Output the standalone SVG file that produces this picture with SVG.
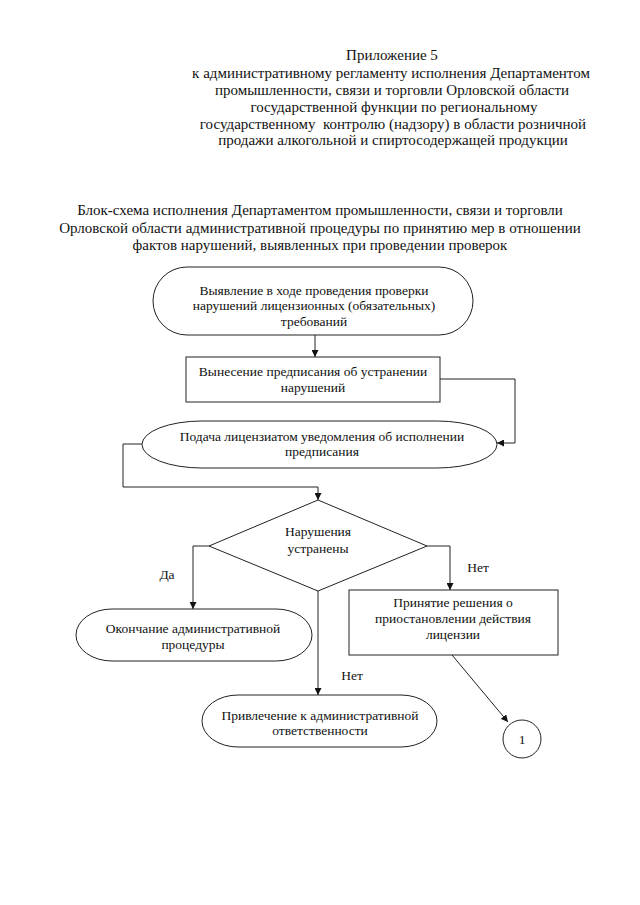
<svg xmlns="http://www.w3.org/2000/svg" width="640" height="905" viewBox="0 0 640 905">
<style>
text{font-family:"Liberation Serif","Times New Roman",serif;fill:#111;text-anchor:middle}
.h{font-size:15px}
.n{font-size:13.5px}
.s{fill:#fff;stroke:#222;stroke-width:1}
.c{fill:none;stroke:#222;stroke-width:1}
</style>
<defs>
<marker id="a" viewBox="0 0 10 10" refX="10" refY="5" markerWidth="7" markerHeight="7" orient="auto" markerUnits="userSpaceOnUse">
<path d="M0,0 L10,5 L0,10 z" fill="#111"/>
</marker>
</defs>
<rect width="640" height="905" fill="#fff"/>
<g id="header">
<text class="h" x="392" y="60">Приложение 5</text>
<text class="h" x="391" y="78">к административному регламенту исполнения Департаментом</text>
<text class="h" x="392" y="95">промышленности, связи и торговли Орловской области</text>
<text class="h" x="394" y="112">государственной функции по региональному</text>
<text class="h" x="393" y="129" xml:space="preserve">государственному  контролю (надзору) в области розничной</text>
<text class="h" x="393" y="145">продажи алкогольной и спиртосодержащей продукции</text>
</g>
<g id="title">
<text class="h" x="320" y="215">Блок-схема исполнения Департаментом промышленности, связи и торговли</text>
<text class="h" x="320" y="233">Орловской области административной процедуры по принятию мер в отношении</text>
<text class="h" x="320" y="250">фактов нарушений, выявленных при проведении проверок</text>
</g>
<g id="connectors">
<line class="c" x1="315" y1="335" x2="315" y2="357" marker-end="url(#a)"/>
<polyline class="c" points="440,379 515,379 515,443 497,443" marker-end="url(#a)"/>
<polyline class="c" points="142,444 123,444 123,487 318,487 318,500" marker-end="url(#a)"/>
<polyline class="c" points="209,546 193,546 193,609" marker-end="url(#a)"/>
<polyline class="c" points="427,546 450,546 450,590" marker-end="url(#a)"/>
<line class="c" x1="318" y1="591" x2="318" y2="695" marker-end="url(#a)"/>
<line class="c" x1="452" y1="655" x2="508" y2="722" marker-end="url(#a)"/>
<text class="n" x="167" y="579">Да</text>
<text class="n" x="478" y="572">Нет</text>
<text class="n" x="352" y="680">Нет</text>
</g>
<g id="n1">
<rect class="s" x="153" y="267" width="320" height="68" rx="34" ry="34"/>
<text class="n" x="314" y="295">Выявление в ходе проведения проверки</text>
<text class="n" x="314" y="310">нарушений лицензионных (обязательных)</text>
<text class="n" x="314" y="326">требований</text>
</g>
<g id="n2">
<rect class="s" x="186" y="357" width="254" height="45"/>
<text class="n" x="313" y="376">Вынесение предписания об устранении</text>
<text class="n" x="313" y="392">нарушений</text>
</g>
<g id="n3">
<rect class="s" x="142" y="421" width="355" height="47" rx="60" ry="23.5"/>
<text class="n" x="322" y="441">Подача лицензиатом уведомления об исполнении</text>
<text class="n" x="322" y="456">предписания</text>
</g>
<g id="n4">
<polygon class="s" points="318,500 427,546 318,591 209,546"/>
<text class="n" x="318" y="536">Нарушения</text>
<text class="n" x="318" y="553">устранены</text>
</g>
<g id="n5">
<rect class="s" x="76" y="609" width="236" height="52" rx="36" ry="26"/>
<text class="n" x="193" y="633">Окончание административной</text>
<text class="n" x="193" y="649">процедуры</text>
</g>
<g id="n6">
<rect class="s" x="349" y="590" width="209" height="65"/>
<text class="n" x="453" y="607">Принятие решения о</text>
<text class="n" x="453" y="623">приостановлении действия</text>
<text class="n" x="453" y="639">лицензии</text>
</g>
<g id="n7">
<rect class="s" x="202" y="695" width="235" height="52" rx="36" ry="26"/>
<text class="n" x="320" y="720">Привлечение к административной</text>
<text class="n" x="320" y="735">ответственности</text>
</g>
<g id="n8">
<circle class="s" cx="522" cy="739" r="19"/>
<text class="n" x="522" y="744">1</text>
</g>
</svg>
